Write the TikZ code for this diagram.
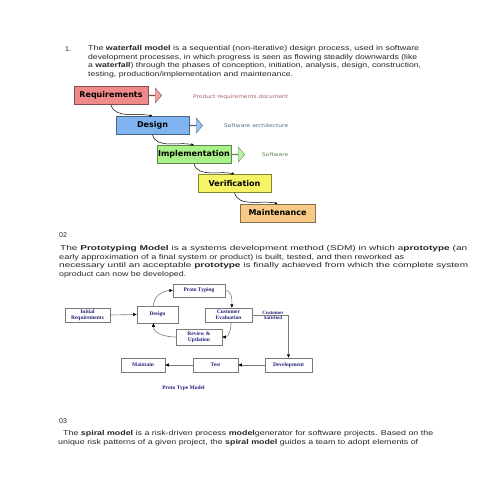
\documentclass[tikz,border=0pt]{standalone}
\usepackage{fontspec}
\setmainfont{Liberation Sans}
\newfontfamily\wffont{DejaVu Sans}
\newfontfamily\ptfont{Liberation Serif}
\usepackage{graphicx}
\usetikzlibrary{shapes.arrows, arrows.meta, positioning, calc}
\definecolor{docText}{HTML}{262626}
\definecolor{wfRed}{HTML}{F08A8A}
\definecolor{wfBlue}{HTML}{80B4F0}
\definecolor{wfGreen}{HTML}{A8F088}
\definecolor{wfYellow}{HTML}{F6F466}
\definecolor{wfOrange}{HTML}{F8CA88}
\definecolor{ptGray}{HTML}{7A7A7A}
\definecolor{ptNavy}{HTML}{23237A}
\tikzset{
  doctext/.style={anchor=west, inner sep=0pt, font=\fontsize{7}{8}\selectfont, text=docText},
  wfbox/.style={draw=#1!55!black, fill=#1, line width=0.7pt, inner sep=0pt,
                minimum height=18pt, font=\wffont\bfseries\fontsize{8}{9}\selectfont},
  wfarr/.style={single arrow, draw=#1!55!black, fill=#1!80!white, anchor=tail,
                minimum height=13pt, minimum width=15pt, single arrow head extend=3.5pt,
                single arrow tip angle=100, inner sep=0pt},
  wfnote/.style={anchor=west, inner sep=0pt, font=\wffont\fontsize{5}{6}\selectfont},
  wfline/.style={-{Stealth[length=3pt,width=2.5pt]}, line width=0.5pt, black},
  ptbox/.style={draw=ptGray, fill=white, line width=0.5pt, align=center, inner sep=0pt,
                font=\ptfont\bfseries\fontsize{5.5}{6}\selectfont, text=ptNavy},
  ptarc/.style={draw=ptGray, line width=0.6pt, -{Triangle[length=3.5pt,width=3pt,color=black]}},
}

\begin{document}
\begin{tikzpicture}[x=1pt,y=1pt]
\fill[white] (0,0) rectangle (495,-495);
\useasboundingbox (0,0) rectangle (495,-495);

% paragraph 1
\node[doctext] (n1) at (65,-49) {1.};
\node[doctext] (p1a) at (88,-49) {\resizebox{331pt}{\height}{The \textbf{waterfall model} is a sequential (non-iterative) design process, used in software}};
\node[doctext] (p1b) at (88,-57.5) {\resizebox{329pt}{\height}{development processes, in which progress is seen as flowing steadily downwards (like}};
\node[doctext] (p1c) at (88,-66) {\resizebox{333pt}{\height}{a \textbf{waterfall}) through the phases of conception, initiation, analysis, design, construction,}};
\node[doctext] (p1d) at (88,-74.5) {\resizebox{205pt}{\height}{testing, production/implementation and maintenance.}};

% waterfall
\node[wfbox=wfRed, minimum width=74pt] (rq) at (111,-95.5) {Requirements};
\node[wfbox=wfBlue, minimum width=73pt] (ds) at (152.5,-125.5) {Design};
\node[wfbox=wfGreen, minimum width=74pt] (im) at (194,-154.5) {Implementation};
\node[wfbox=wfYellow, minimum width=73pt] (vf) at (234.5,-183.5) {Verification};
\node[wfbox=wfOrange, minimum width=75pt] (mt) at (277.5,-213) {Maintenance};

\node[wfarr=wfRed] (rqArr) at (rq.east) {};
\node[wfarr=wfBlue] (dsArr) at (ds.east) {};
\node[wfarr=wfGreen] (imArr) at (im.east) {};

\node[wfnote, text=wfRed!70!black] (rqDoc) at (193,-97) {\resizebox{95pt}{\height}{Product requirements document}};
\node[wfnote, text=wfBlue!60!black] (dsDoc) at (224,-126) {\resizebox{64pt}{\height}{Software architecture}};
\node[wfnote, text=wfGreen!55!black] (imDoc) at (262,-155) {\resizebox{26pt}{\height}{Software}};

\draw[wfline] (rq.south) to[out=-75,in=165,looseness=0.9] (ds.north);
\draw[wfline] (ds.south) to[out=-75,in=165,looseness=0.9] (im.north);
\draw[wfline] (im.south) to[out=-75,in=165,looseness=0.9] (vf.north);
\draw[wfline] (vf.south) to[out=-75,in=165,looseness=0.9] (mt.north);

% paragraph 2
\node[doctext] (n2) at (59,-235) {02};
\node[doctext] (p2a) at (60,-249) {\resizebox{407pt}{\height}{The \textbf{Prototyping Model} is a systems development method (SDM) in which a\textbf{prototype} (an}};
\node[doctext] (p2b) at (59,-257.5) {\resizebox{345pt}{\height}{early approximation of a final system or product) is built, tested, and then reworked as}};
\node[doctext] (p2c) at (59,-266) {\resizebox{409pt}{\height}{necessary until an acceptable \textbf{prototype} is finally achieved from which the complete system}};
\node[doctext] (p2d) at (59,-274.5) {\resizebox{127pt}{\height}{oproduct can now be developed.}};

% prototype model
\node[ptbox, minimum width=45pt, minimum height=14pt] (ini) at (87.5,-315) {Initial\\Requirements};
\node[ptbox, minimum width=41pt, minimum height=17pt] (dsg) at (157.5,-314.5) {Design};
\node[ptbox, minimum width=52pt, minimum height=13pt] (pty) at (199,-290.5) {Proto Typing};
\node[ptbox, minimum width=47pt, minimum height=14pt] (cev) at (228.5,-315) {Customer\\Evaluation};
\node[ptbox, minimum width=46pt, minimum height=16pt] (rvw) at (199,-337) {Review \&\\Updation};
\node[ptbox, minimum width=47pt, minimum height=14pt] (dev) at (288.5,-365) {Development};
\node[ptbox, minimum width=45pt, minimum height=14pt] (tst) at (215.5,-365) {Test};
\node[ptbox, minimum width=44pt, minimum height=14pt] (mnt) at (143,-365) {Maintain};
\node[font=\ptfont\bfseries\fontsize{5}{5}\selectfont, text=ptNavy, align=center, inner sep=0pt] (sat) at (273,-315) {Customer\\Satisfied};
\node[font=\ptfont\bfseries\fontsize{5.5}{5.5}\selectfont, text=ptNavy, inner sep=0pt] (cap) at (183.5,-388) {Proto Type Model};

\draw[ptarc] (ini.east) -- (dsg.west);
\draw[ptarc] (dsg.115) to[out=90,in=180] (pty.west);
\draw[ptarc] (pty.east) to[out=0,in=90] (cev.65);
\draw[ptarc] (cev.-70) to[out=-90,in=0] (rvw.east);
\draw[ptarc] (rvw.west) to[out=180,in=-90] (dsg.-115);
\draw[ptarc] (cev.east) -| (dev.north);
\draw[ptarc] (dev.west) -- (tst.east);
\draw[ptarc] (tst.west) -- (mnt.east);

% paragraph 3
\node[doctext] (n3) at (59,-421) {03};
\node[doctext] (p3a) at (63,-434) {\resizebox{370pt}{\height}{The \textbf{spiral model} is a risk-driven process \textbf{model}generator for software projects. Based on the}};
\node[doctext] (p3b) at (58,-442.5) {\resizebox{360pt}{\height}{unique risk patterns of a given project, the \textbf{spiral model} guides a team to adopt elements of}};
\end{tikzpicture}
\end{document}
